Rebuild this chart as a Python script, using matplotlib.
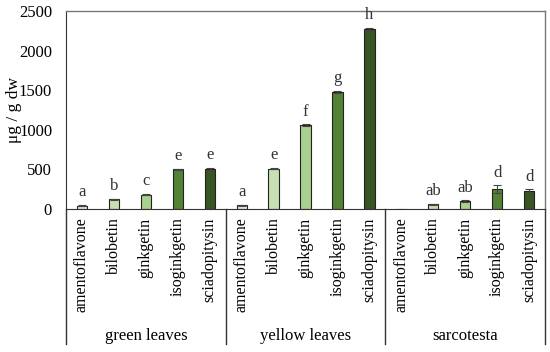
import matplotlib
matplotlib.use("Agg")
import matplotlib.pyplot as plt
import numpy as np

groups = ["green leaves", "yellow leaves", "sarcotesta"]
compounds = ["amentoflavone", "bilobetin", "ginkgetin", "isoginkgetin", "sciadopitysin"]
colors = ["#e2efda", "#c6e0b4", "#a9d08e", "#548235", "#375623"]

green_vals = [45, 125, 180, 500, 510]
yellow_vals = [50, 510, 1060, 1475, 2270]
sarco_vals = [0, 60, 100, 250, 230]
green_err = [5, 8, 8, 12, 12]
yellow_err = [5, 10, 10, 12, 12]
sarco_err = [0, 10, 10, 50, 20]
green_letters = ["a", "b", "c", "e", "e"]
yellow_letters = ["a", "e", "f", "g", "h"]
sarco_letters = ["", "ab", "ab", "d", "d"]

values = [green_vals, yellow_vals, sarco_vals]
errs = [green_err, yellow_err, sarco_err]
letters = [green_letters, yellow_letters, sarco_letters]

plt.rcParams['font.family'] = ['Liberation Serif', 'DejaVu Serif']

fig = plt.figure(figsize=(5.5, 3.52), dpi=100)
ax = fig.add_axes([0.12, 0.406, 0.871, 0.563])

n = len(compounds)
xs, labels = [], []
for gi, g in enumerate(groups):
    for ci in range(n):
        x = gi * n + ci
        v = values[gi][ci]
        e = errs[gi][ci]
        ax.bar(x, v, width=0.32, color=colors[ci], edgecolor="#222222", linewidth=0.8, zorder=2)
        if e > 0:
            ax.errorbar(x, v, yerr=e, fmt="none", ecolor="#444444", elinewidth=0.8, capsize=3, capthick=0.8, zorder=3)
        if letters[gi][ci]:
            ax.text(x, v + e + 60, letters[gi][ci], ha="center", va="bottom", fontsize=12, color="#333333")
        xs.append(x)
        labels.append(compounds[ci])

ax.set_xlim(-0.5, 3 * n - 0.5)
ax.set_ylim(0, 2500)
ax.set_yticks([0, 500, 1000, 1500, 2000, 2500])
ax.tick_params(axis="y", labelsize=12, length=0, pad=10)
ax.set_xticks(xs)
ax.set_xticklabels(labels, rotation=90, fontsize=11.5)
ax.tick_params(axis="x", length=0, pad=6)
fig.text(14 / 550, 0.406 + 0.563 * 0.5 + 0.0, "μg / g dw", rotation=90, ha="center", va="center", fontsize=12.5)

for s in ["top", "right"]:
    ax.spines[s].set_color("#777777")
    ax.spines[s].set_linewidth(1.0)
ax.spines["left"].set_color("#333333")
ax.spines["bottom"].set_color("#333333")

# group separators below axis
for b in range(4):
    xb = b * n - 0.5
    ax.plot([xb, xb], [0, -0.68], transform=ax.get_xaxis_transform(), color="#333333", linewidth=1.0, clip_on=False)
for gi, g in enumerate(groups):
    ax.text(gi * n + (n - 1) / 2, -0.64, g, transform=ax.get_xaxis_transform(), ha="center", va="center", fontsize=12)

fig.savefig("out.png", dpi=100)
